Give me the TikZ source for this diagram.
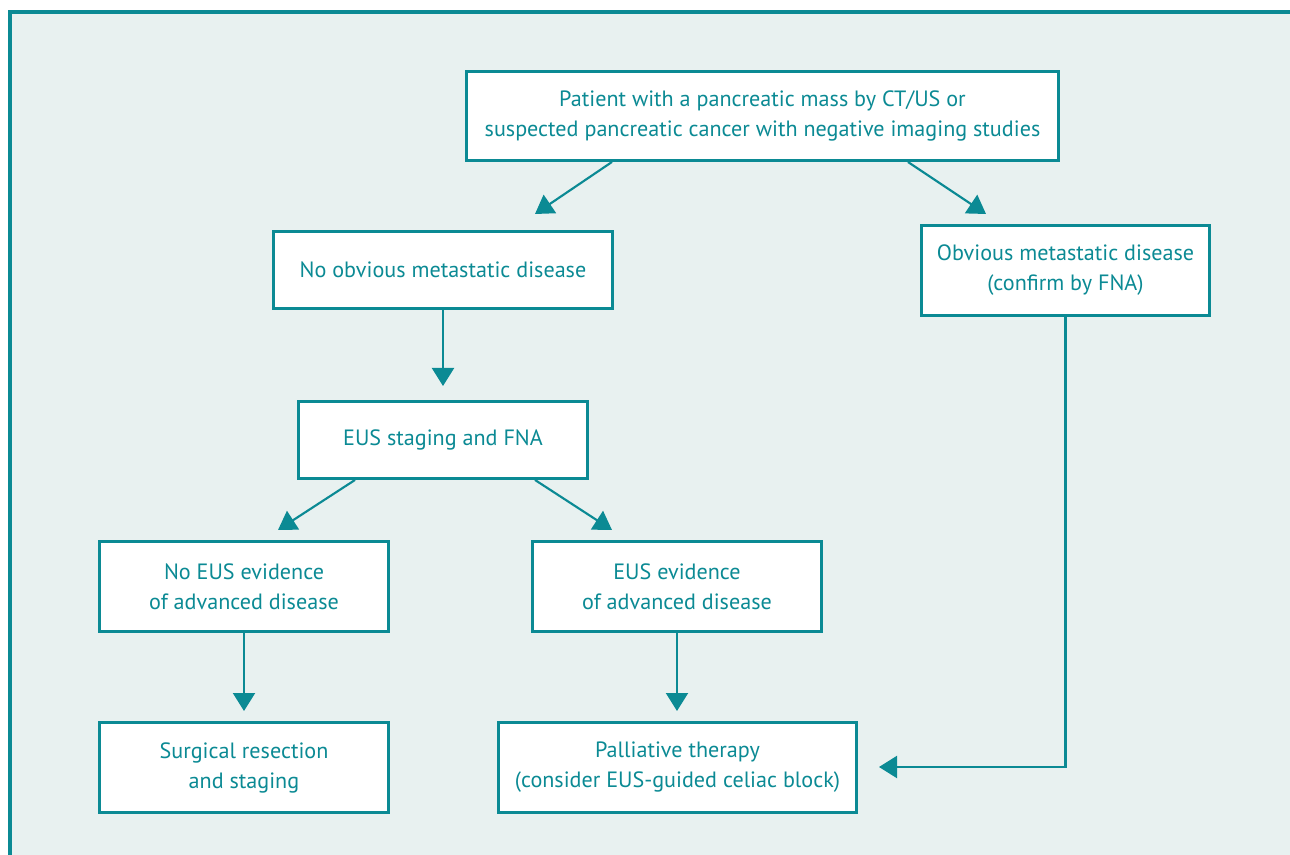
\documentclass[tikz,border=0pt]{standalone}
\usepackage{fontspec}
\setmainfont{PT Sans}
\usetikzlibrary{arrows.meta}
\definecolor{teal1}{HTML}{0B8A94}
\definecolor{bgc}{HTML}{E8F1F0}
\begin{document}
\begin{tikzpicture}[x=0.75pt,y=-0.75pt,
  box/.style={draw=teal1,line width=2.2pt,fill=white,text=teal1,align=center,
    font=\fontsize{16.6}{22.5}\selectfont,inner sep=0pt},
  sz/.style 2 args={minimum width=#1*0.75pt,minimum height=#2*0.75pt},
  conn/.style={draw=teal1,line width=1.6pt,-{Triangle[length=13.5pt,width=16.5pt]}}]
\useasboundingbox (0,0) rectangle (1290,855);
\fill[white] (0,0) rectangle (1290,855);
\fill[bgc] (10,12) rectangle (1300,870);
\draw[teal1,line width=2.4pt] (10,870) -- (10,12) -- (1300,12);

\node[box,sz={592}{89}] (top) at (762.5,116) {Patient with a pancreatic mass by CT/US or\\suspected pancreatic cancer with negative imaging studies};
\node[box,sz={339}{77}] (nomet) at (443,270) {No obvious metastatic disease};
\node[box,sz={288}{90}] (obv) at (1065.5,270.5) {Obvious metastatic disease\\(confirm by FNA)};
\node[box,sz={289}{77}] (eus) at (443,440) {EUS staging and FNA};
\node[box,sz={289}{90}] (noeus) at (244,586.5) {No EUS evidence\\of advanced disease};
\node[box,sz={289}{90}] (euse) at (677,586.5) {EUS evidence\\of advanced disease};
\node[box,sz={289}{90}] (surg) at (244,767.5) {Surgical resection\\and staging};
\node[box,sz={358}{90}] (pall) at (677.5,767.5) {Palliative therapy\\(consider EUS-guided celiac block)};

\coordinate (t1) at (535,214);
\coordinate (t2) at (986,214);
\coordinate (t3) at (443,386);
\coordinate (t4) at (278,530);
\coordinate (t5) at (612,530);
\coordinate (t6) at (244,711);
\coordinate (t7) at (677,711);
\coordinate (t8) at (879,767);

\draw[conn] ([xshift=-112.9pt]top.south) -- (t1);
\draw[conn] ([xshift=109.1pt]top.south) -- (t2);
\draw[conn] (nomet.south) -- (t3);
\draw[conn] ([xshift=-66pt]eus.south) -- (t4);
\draw[conn] ([xshift=69pt]eus.south) -- (t5);
\draw[conn] (noeus.south) -- (t6);
\draw[conn] (euse.south) -- (t7);
\draw[conn] (obv.south) |- (t8);
\end{tikzpicture}
\end{document}
